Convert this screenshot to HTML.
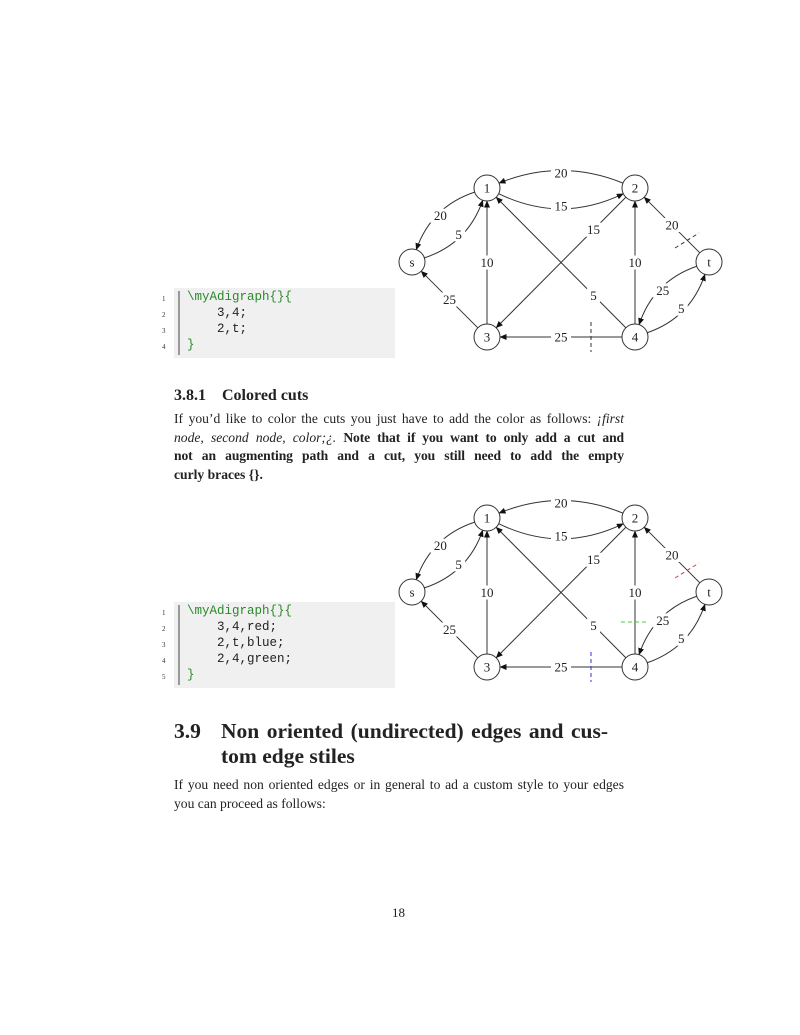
<!DOCTYPE html>
<html><head><meta charset="utf-8">
<style>
body{margin:0;background:#fff;}
#page{position:relative;width:800px;height:1035px;background:#fff;font-family:"Liberation Serif",serif;color:#222;overflow:hidden;}
.t{position:absolute;white-space:nowrap;}
.p{position:absolute;left:174px;width:450px;font-size:13.6px;line-height:18.5px;}
.p div{white-space:nowrap;text-align:justify;text-align-last:justify;}
.p div.last{text-align-last:left;}
.code{position:absolute;left:174px;width:221px;background:#f0f0f0;}
.code .bar{position:absolute;left:4px;top:3px;bottom:3px;width:2px;background:#999;}
.ln{position:absolute;left:-12px;font-size:7px;font-family:"Liberation Serif",serif;color:#333;}
.cl{position:absolute;left:13px;font-family:"Liberation Mono",monospace;font-size:12.5px;white-space:pre;color:#222;}
.g{color:#2a8a2a;}
svg{position:absolute;left:0;top:0;}
</style></head><body>
<div id="page">
<svg id="gs" width="800" height="1035"></svg>

<div class="code" style="top:288px;height:70px;">
<div class="bar"></div>
<div class="ln" style="top:7px">1</div><div class="cl" style="top:2px"><span class="g">\myAdigraph{}{</span></div>
<div class="ln" style="top:23px">2</div><div class="cl" style="top:18px">    3,4;</div>
<div class="ln" style="top:39px">3</div><div class="cl" style="top:34px">    2,t;</div>
<div class="ln" style="top:55px">4</div><div class="cl" style="top:50px"><span class="g">}</span></div>
</div>

<div class="t" style="left:174px;top:387px;font-size:16px;font-weight:bold;">3.8.1&nbsp;&nbsp;&nbsp;&nbsp;Colored cuts</div>
<div class="p" style="top:410px;">
<div>If you’d like to color the cuts you just have to add the color as follows: <i>¡first</i></div>
<div><i>node, second node, color;¿.</i> <b style="letter-spacing:-0.1px">Note that if you want to only add a cut and</b></div>
<div><b style="letter-spacing:-0.1px">not an augmenting path and a cut, you still need to add the empty</b></div>
<div class="last"><b>curly braces {}.</b></div>
</div>

<div class="code" style="top:602px;height:86px;">
<div class="bar"></div>
<div class="ln" style="top:7px">1</div><div class="cl" style="top:2px"><span class="g">\myAdigraph{}{</span></div>
<div class="ln" style="top:23px">2</div><div class="cl" style="top:18px">    3,4,red;</div>
<div class="ln" style="top:39px">3</div><div class="cl" style="top:34px">    2,t,blue;</div>
<div class="ln" style="top:55px">4</div><div class="cl" style="top:50px">    2,4,green;</div>
<div class="ln" style="top:71px">5</div><div class="cl" style="top:66px"><span class="g">}</span></div>
</div>

<div class="t" style="left:174px;top:719px;font-size:21.5px;font-weight:bold;line-height:25px;"><div style="width:434px;text-align:justify;text-align-last:justify;"><span style="display:inline-block;width:47px">3.9</span>Non oriented (undirected) edges and cus-</div><div style="padding-left:47px">tom edge stiles</div></div>
<div class="p" style="top:776px;">
<div>If you need non oriented edges or in general to ad a custom style to your edges</div>
<div class="last">you can proceed as follows:</div>
</div>

<div class="t" style="left:392px;top:905px;font-size:13px;">18</div>
</div>
<script>
const NS='http://www.w3.org/2000/svg';
const svg=document.getElementById('gs');
const nodeNames=['1','2','s','t','3','4'];
const nodeX=[487,635,412,709,487,635];
const nodeY=[188,188,262,262,337,337];
const edgeFrom=['2','1','1','s','3','3','2','4','4','4','t','t','4'];
const edgeTo  =['1','2','s','1','1','s','3','1','2','3','2','4','t'];
const edgeCap =[20,15,20,5,10,25,15,5,10,25,20,25,5];
const edgeBend=[15,18,13,13,0,0,0,0,0,0,0,13,13];
const labelT  =[0.5,0.5,0.5,0.5,0.5,0.5,0.28,0.28,0.5,0.5,0.5,0.5,0.5];
const R=13;
const defs=document.createElementNS(NS,'defs');
defs.innerHTML='<marker id="ah" markerWidth="7" markerHeight="6" refX="6.5" refY="3" orient="auto" markerUnits="userSpaceOnUse"><path d="M0,0 L7,3 L0,6 Z" fill="#111"/></marker>';
svg.appendChild(defs);
function mk(tag,attrs){const e=document.createElementNS(NS,tag);for(const k in attrs)e.setAttribute(k,attrs[k]);return e;}
function drawGraph(dy,cuts,gi){
  const g=mk('g',{});
  
  
  svg.appendChild(g);
  const P=n=>{const i=nodeNames.indexOf(n);return [nodeX[i],nodeY[i]+dy];};
  const labels=[];
  edgeFrom.forEach((f,i)=>{
    const A=P(f),B=P(edgeTo[i]);
    const dx=B[0]-A[0],dyy=B[1]-A[1],L=Math.hypot(dx,dyy);
    const px=-dyy/L,py=dx/L;
    const C=[(A[0]+B[0])/2+px*edgeBend[i]*2,(A[1]+B[1])/2+py*edgeBend[i]*2];
    const u=(a,b)=>{const l=Math.hypot(b[0]-a[0],b[1]-a[1]);return [(b[0]-a[0])/l,(b[1]-a[1])/l];};
    const ua=u(A,C),ub=u(B,C);
    const S=[A[0]+ua[0]*R,A[1]+ua[1]*R],E=[B[0]+ub[0]*R,B[1]+ub[1]*R];
    const d=edgeBend[i]?`M${S[0]},${S[1]} Q${C[0]},${C[1]} ${E[0]},${E[1]}`:`M${S[0]},${S[1]} L${E[0]},${E[1]}`;
    const p=mk('path',{d:d,fill:'none',stroke:'#333','stroke-width':1,'marker-end':'url(#ah)'});
    
    
    g.appendChild(p);
    const t=labelT[i];
    const lx=(1-t)*(1-t)*A[0]+2*t*(1-t)*C[0]+t*t*B[0];
    const ly=(1-t)*(1-t)*A[1]+2*t*(1-t)*C[1]+t*t*B[1];
    labels.push([lx,ly,edgeCap[i],f,edgeTo[i]]);
  });
  labels.forEach(l=>{
    const w=String(l[2]).length*7+6;
    g.appendChild(mk('rect',{x:l[0]-w/2,y:l[1]-7,width:w,height:14,fill:'#fff'}));
    const tx=mk('text',{x:l[0],y:l[1]+4.5,'text-anchor':'middle','font-size':13,'font-family':'Liberation Serif, serif',fill:'#222'});
    tx.textContent=l[2];
    
    
    g.appendChild(tx);
  });
  nodeNames.forEach((n,i)=>{
    const c=mk('circle',{cx:nodeX[i],cy:nodeY[i]+dy,r:R,fill:'#fff',stroke:'#333','stroke-width':1});
    
    
    g.appendChild(c);
    const tx=mk('text',{x:nodeX[i],y:nodeY[i]+dy+4.5,'text-anchor':'middle','font-size':13,'font-family':'Liberation Serif, serif',fill:'#222'});
    tx.textContent=n;
    g.appendChild(tx);
  });
  cuts.forEach(c=>{
    const l=mk('line',{x1:c[0],y1:c[1]+dy,x2:c[2],y2:c[3]+dy,stroke:c[4],'stroke-width':1,'stroke-dasharray':'4,3'});
    
    
    g.appendChild(l);
  });
}
drawGraph(0,[[591,322,591,352,'#333'],[675,248,699,233,'#333']],1);
drawGraph(330,[[591,322,591,352,'#3333dd'],[675,248,699,233,'#e03040'],[621,292,649,292,'#44cc44']],2);
</script>
</body></html>
